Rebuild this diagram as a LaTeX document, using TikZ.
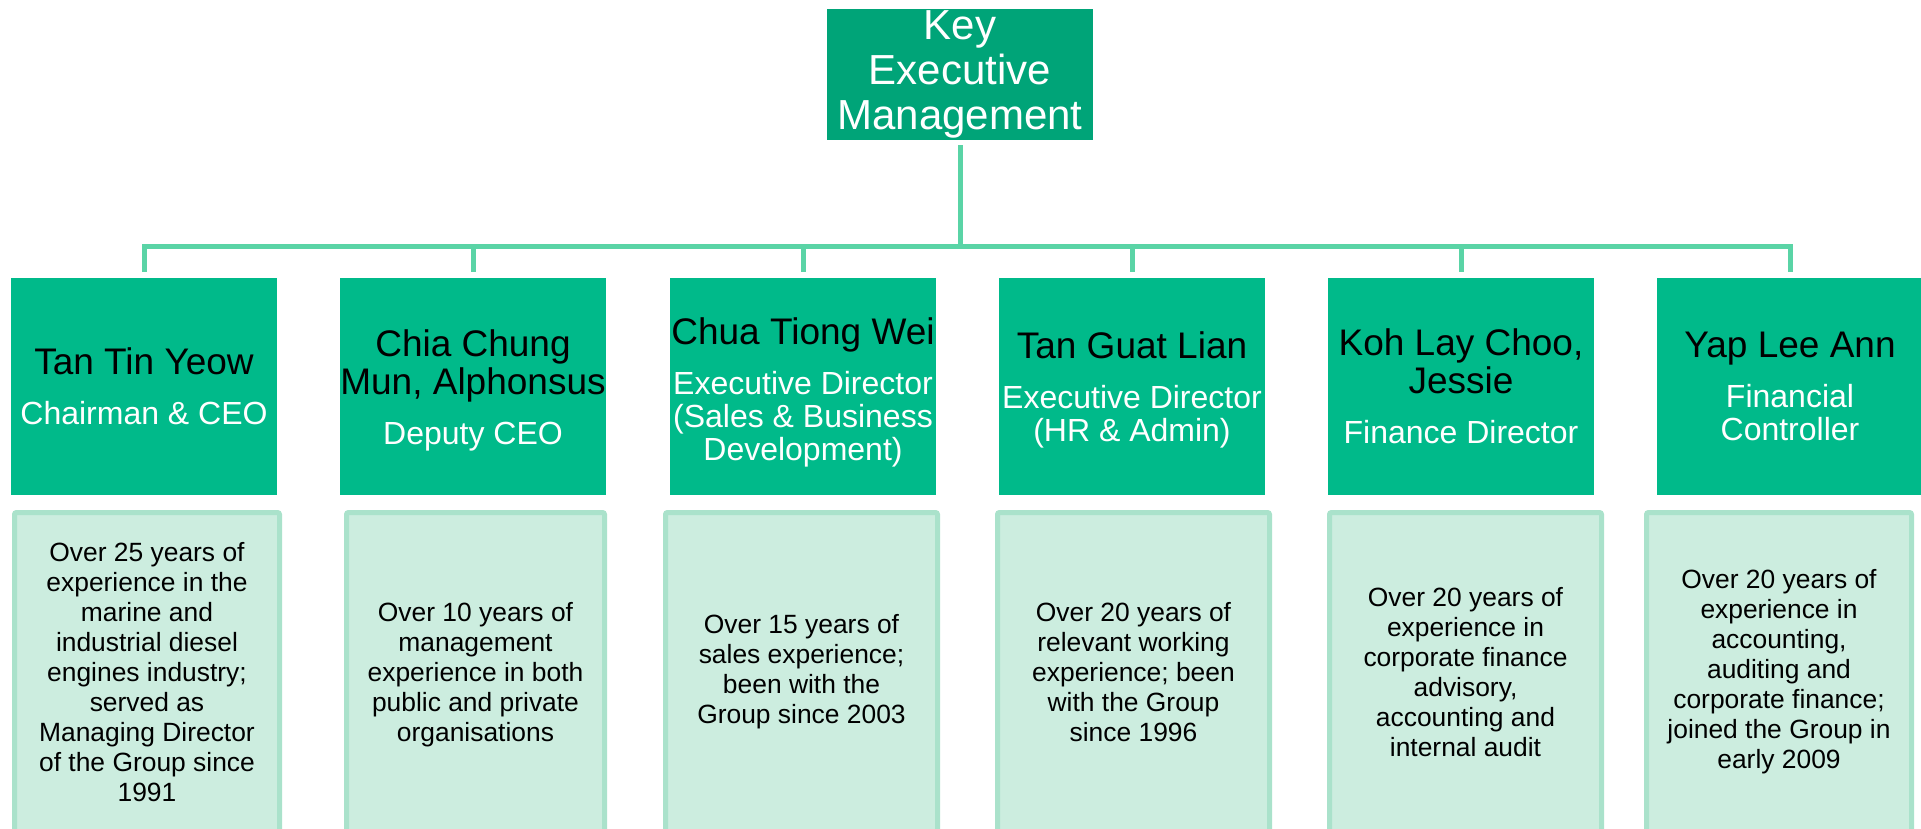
\documentclass[tikz,border=0pt]{standalone}
\usepackage{fontspec}
\setmainfont{Liberation Sans}
\usetikzlibrary{calc}

\definecolor{topgreen}{HTML}{00A478}
\definecolor{boxgreen}{HTML}{00BA8A}
\definecolor{linkgreen}{HTML}{5AD4A6}
\definecolor{paleface}{HTML}{CCEDDF}
\definecolor{paleedge}{HTML}{AAE2CB}

% one centred line of the current \hsize (overhang stays centred)
\newcommand\ctr[1]{\hbox to\hsize{\hss#1\hss}}
% a stack of lines; the closing kern keeps descenders out of the centring
\newcommand\stack[2]{\vbox{\hsize=#1#2\kern0pt}}
\newcommand\topfont{\fontsize{42}{45}\selectfont}
\newcommand\namefont{\fontsize{37}{38}\selectfont}
\newcommand\rolefont{\fontsize{32}{33}\selectfont}
\newcommand\bodyfont{\fontsize{26.4}{30}\selectfont}
\newcommand\rolegap{\vskip17pt}

\tikzset{
  topbox/.style={rectangle, fill=topgreen, minimum width=266pt, minimum height=131pt,
    inner sep=0pt, text=white},
  personbox/.style={rectangle, fill=boxgreen, minimum width=266pt, minimum height=217pt,
    inner sep=0pt, text=black},
  infobox/.style={rectangle, fill=paleface, draw=paleedge, line width=5pt,
    rounded corners=2pt, minimum height=319pt, inner sep=0pt, text=black},
  link/.style={draw=linkgreen, line width=5pt},
}

\begin{document}
\begin{tikzpicture}[x=1pt, y=-1pt]
  \useasboundingbox (0,0) rectangle (1921,828);
  \clip (0,0) rectangle (1921,828);

  % head of the chart
  \node[topbox] (top) at (960,74.5)
    {\stack{266pt}{\topfont\ctr{Key}\ctr{Executive}\ctr{Management}}};

  % executives
  \node[personbox] (u1) at (144,386.5)
    {\stack{266pt}{\namefont\ctr{Tan Tin Yeow}\rolegap
      \rolefont\ctr{\color{white}Chairman \& CEO}}};
  \node[personbox] (u2) at (473,386.5)
    {\stack{266pt}{\vskip7pt\namefont\ctr{Chia Chung}\ctr{Mun, Alphonsus}\rolegap
      \rolefont\ctr{\color{white}Deputy CEO}}};
  \node[personbox] (u3) at (803,386.5)
    {\stack{266pt}{\vskip12pt\namefont\ctr{Chua Tiong Wei}\rolegap
      \rolefont\ctr{\color{white}Executive Director}\ctr{\color{white}(Sales \& Business}\ctr{\color{white}Development)}}};
  \node[personbox] (u4) at (1132,386.5)
    {\stack{266pt}{\vskip7pt\namefont\ctr{Tan Guat Lian}\rolegap
      \rolefont\ctr{\color{white}Executive Director}\ctr{\color{white}(HR \& Admin)}}};
  \node[personbox] (u5) at (1461,386.5)
    {\stack{266pt}{\namefont\ctr{Koh Lay Choo,}\ctr{Jessie}\rolegap
      \rolefont\ctr{\color{white}Finance Director}}};
  \node[personbox] (u6) at (1790,386.5)
    {\stack{266pt}{\namefont\ctr{Yap Lee Ann}\rolegap
      \rolefont\ctr{\color{white}Financial}\ctr{\color{white}Controller}}};

  % experience panels
  \node[infobox, minimum width=265pt] (d1) at (147,672)
    {\stack{260pt}{\bodyfont\ctr{Over 25 years of}\ctr{experience in the}\ctr{marine and}
      \ctr{industrial diesel}\ctr{engines industry;}\ctr{served as}\ctr{Managing Director}
      \ctr{of the Group since}\ctr{1991}}};
  \node[infobox, minimum width=258pt] (d2) at (475.5,672)
    {\stack{250pt}{\vskip5pt\bodyfont\ctr{Over 10 years of}\ctr{management}\ctr{experience in both}
      \ctr{public and private}\ctr{organisations}}};
  \node[infobox, minimum width=272pt] (d3) at (801.5,672)
    {\stack{260pt}{\bodyfont\ctr{Over 15 years of}\ctr{sales experience;}\ctr{been with the}
      \ctr{Group since 2003}}};
  \node[infobox, minimum width=272pt] (d4) at (1133.5,672)
    {\stack{260pt}{\bodyfont\ctr{Over 20 years of}\ctr{relevant working}\ctr{experience; been}
      \ctr{with the Group}\ctr{since 1996}}};
  \node[infobox, minimum width=272pt] (d5) at (1465.5,672)
    {\stack{260pt}{\bodyfont\ctr{Over 20 years of}\ctr{experience in}\ctr{corporate finance}
      \ctr{advisory,}\ctr{accounting and}\ctr{internal audit}}};
  \node[infobox, minimum width=265pt] (d6) at (1779,672)
    {\stack{260pt}{\bodyfont\ctr{Over 20 years of}\ctr{experience in}\ctr{accounting,}
      \ctr{auditing and}\ctr{corporate finance;}\ctr{joined the Group in}\ctr{early 2009}}};

  % connectors
  \coordinate (bus) at (960,246.5);
  \draw[link, shorten <=5pt] (top.south) -- (bus);
  \draw[link] ([yshift=6pt]u1.north) |- (bus) -| ([yshift=6pt]u6.north);
  \foreach \u in {u2,u3,u4,u5}
    \draw[link] (\u.north |- bus) -- ([yshift=6pt]\u.north);
\end{tikzpicture}
\end{document}
